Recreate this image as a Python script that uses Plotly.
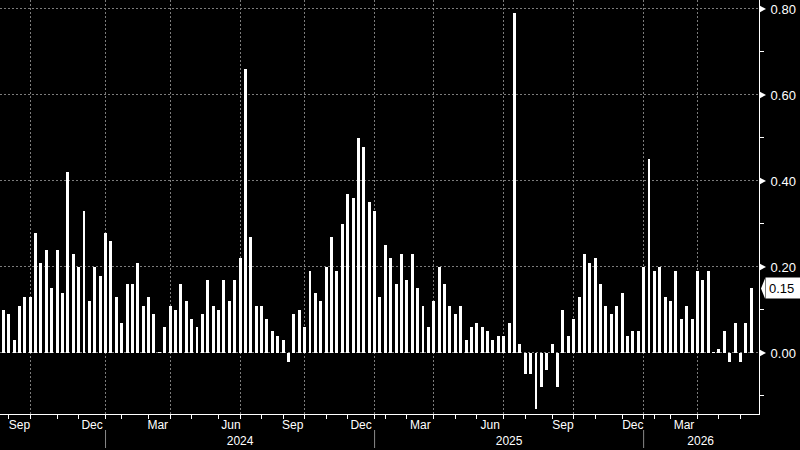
import plotly.graph_objects as go

# ---- data ----
values = [
    0.10, 0.09, 0.03, 0.11, 0.13, 0.13, 0.28, 0.21, 0.24, 0.15,
    0.24, 0.14, 0.42, 0.23, 0.20, 0.33, 0.12, 0.20, 0.18, 0.28,
    0.26, 0.13, 0.07, 0.16, 0.16, 0.21, 0.11, 0.13, 0.09, 0.002,
    0.06, 0.11, 0.10, 0.16, 0.12, 0.08, 0.06, 0.09, 0.17, 0.11,
    0.10, 0.17, 0.12, 0.17, 0.22, 0.66, 0.27, 0.11, 0.11, 0.08,
    0.05, 0.04, 0.03, -0.02, 0.09, 0.10, 0.06, 0.19, 0.14, 0.12,
    0.20, 0.27, 0.19, 0.30, 0.37, 0.36, 0.50, 0.48, 0.35, 0.33,
    0.13, 0.25, 0.22, 0.16, 0.23, 0.17, 0.23, 0.15, 0.11, 0.06,
    0.12, 0.20, 0.16, 0.11, 0.09, 0.11, 0.03, 0.06, 0.07, 0.06,
    0.05, 0.03, 0.04, 0.04, 0.07, 0.79, 0.02, -0.05, -0.05, -0.13,
    -0.08, -0.04, 0.02, -0.08, 0.10, 0.04, 0.08, 0.13, 0.23, 0.21,
    0.22, 0.16, 0.11, 0.09, 0.11, 0.14, 0.04, 0.05, 0.05, 0.20,
    0.45, 0.19, 0.20, 0.13, 0.12, 0.19, 0.08, 0.11, 0.08, 0.19,
    0.17, 0.19, 0.002, 0.01, 0.05, -0.02, 0.07, -0.02, 0.07, 0.15,
]
bar_idx = list(range(len(values)))

# x-axis structure (bar index positions)
grid_pos = [5, 19, 31, 44, 56, 69, 80, 93, 106, 119, 129]
month_tick_pos = [1, 5, 10, 14, 19, 22, 27, 31, 35, 40, 44, 48, 52, 56, 60, 64,
                  69, 71, 75, 80, 84, 88, 93, 97, 102, 106, 110, 115, 119, 121,
                  124, 129, 133, 137]
month_label_pos = [3, 16.5, 28.7, 42.3, 53.8, 66.5, 77.5, 90.5, 104, 117, 126.5]
month_labels = ["Sep", "Dec", "Mar", "Jun", "Sep", "Dec", "Mar", "Jun", "Sep", "Dec", "Mar"]
year_start_pos = [19, 69, 119]
year_label_pos = [44, 94, 129.6]
year_labels = ["2024", "2025", "2026"]

y_ticks = [0.0, 0.2, 0.4, 0.6, 0.8]
y_tick_text = ["0.00", "0.20", "0.40", "0.60", "0.80"]
y_minor = [-0.1, 0.1, 0.3, 0.5, 0.7]

X_RANGE = [-0.613, 140.44]
Y_RANGE = [-0.1419, 0.8209]

# ---- style ----
W, H = 800, 450
ML, MR, MT, MB = 0, 41, 0, 36
PLOT_W = W - ML - MR
PLOT_H = H - MT - MB
Y_PER_PX = (Y_RANGE[1] - Y_RANGE[0]) / PLOT_H
FONT = "Liberation Sans, Arial, sans-serif"
GRID = "#7c7c7c"
DASH = "2px,2px"

fig = go.Figure()
fig.add_trace(go.Bar(
    x=bar_idx, y=values, width=0.55,
    marker=dict(color="#ffffff", line=dict(width=0)),
    showlegend=False,
))
# placeholder traces so the overlay label axes are drawn
fig.add_trace(go.Scatter(x=[None], y=[None], xaxis="x2", showlegend=False, hoverinfo="skip"))
fig.add_trace(go.Scatter(x=[None], y=[None], xaxis="x3", showlegend=False, hoverinfo="skip"))

fig.update_layout(
    width=W, height=H,
    margin=dict(l=ML, r=MR, t=MT, b=MB, pad=0),
    paper_bgcolor="#000000", plot_bgcolor="#000000",
    font=dict(family=FONT, color="#ffffff", size=12),
    bargap=0,
    xaxis=dict(
        range=X_RANGE, tickmode="array", tickvals=grid_pos, showticklabels=False,
        ticks="", showgrid=True, gridcolor=GRID, griddash=DASH, gridwidth=1,
        showline=True, linecolor="#ffffff", linewidth=1, zeroline=False,
        minor=dict(tickmode="array", tickvals=month_tick_pos, ticks="outside",
                   ticklen=4, tickwidth=1, tickcolor="#ffffff", showgrid=False),
    ),
    xaxis2=dict(
        overlaying="x", anchor="y", side="bottom", range=X_RANGE,
        tickmode="array", tickvals=month_label_pos, ticktext=month_labels,
        showgrid=False, showline=False, zeroline=False, ticks="",
        tickfont=dict(family=FONT, size=12, color="#ffffff"), ticklabelstandoff=2,
    ),
    xaxis3=dict(
        overlaying="x", anchor="y", side="bottom", range=X_RANGE,
        tickmode="array", tickvals=year_label_pos, ticktext=year_labels,
        showgrid=False, showline=False, zeroline=False, ticks="",
        tickfont=dict(family=FONT, size=12, color="#ffffff"), ticklabelstandoff=18,
    ),
    yaxis=dict(
        side="right", range=Y_RANGE, tickmode="array", tickvals=y_ticks,
        ticktext=y_tick_text, showgrid=True, gridcolor=GRID, griddash=DASH,
        gridwidth=1, zeroline=False, showline=True, linecolor="#ffffff",
        linewidth=1, ticks="", ticklabelstandoff=8,
        tickfont=dict(family=FONT, size=13, color="#ffffff"),
        minor=dict(tickmode="array", tickvals=y_minor, ticks="outside",
                   ticklen=4, tickwidth=1, tickcolor="#ffffff", showgrid=False),
    ),
)

# tick pointer triangles on the right axis (one per major y tick)
tri_base = 1 + 1 / PLOT_W
tri_tip = 1 + 7 / PLOT_W
tri_half = 3.2 * Y_PER_PX
for v in y_ticks:
    fig.add_shape(type="path", xref="paper", yref="y",
                  path=f"M {tri_base} {v + tri_half} L {tri_tip} {v} L {tri_base} {v - tri_half} Z",
                  fillcolor="#ffffff", line=dict(width=0))

# year dividers below the axis
for p in year_start_pos:
    fig.add_shape(type="line", xref="x", yref="paper", x0=p, x1=p,
                  y0=-16 / PLOT_H, y1=-34 / PLOT_H,
                  line=dict(color="#8a8a8a", width=1))

# last-value label box
last = values[-1]
tip = 1 + 2 / PLOT_W
base = 1 + 6 / PLOT_W
half = 10 * Y_PER_PX
fig.add_shape(type="path", xref="paper", yref="y",
              path=f"M {tip} {last} L {base} {last + half} L {base} {last - half} Z",
              fillcolor="#ffffff", line=dict(width=0))
fig.add_annotation(xref="paper", yref="y", x=1, y=last, xanchor="left", yanchor="middle",
                   xshift=6, text=f"{last:.2f}", showarrow=False, align="left",
                   bgcolor="#ffffff", borderpad=3, width=29, height=14,
                   font=dict(family=FONT, size=13, color="#000000"))

fig.write_html("out.html")
